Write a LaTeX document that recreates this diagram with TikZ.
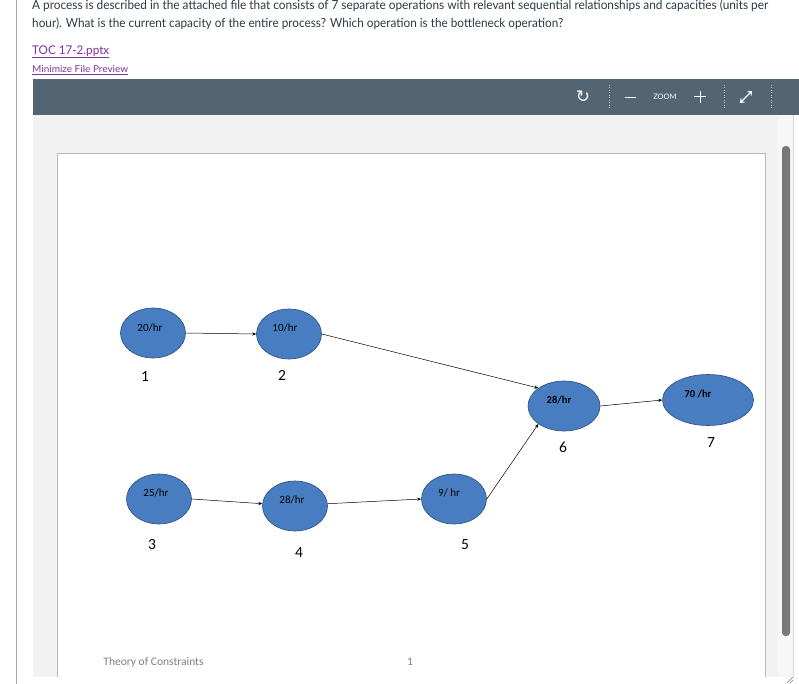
\documentclass[tikz,border=0pt]{standalone}
\usepackage{fontspec}
\setmainfont{Lato}
\newfontfamily\calib{Carlito}
\newfontfamily\djv{DejaVu Sans}
\usetikzlibrary{shapes.geometric,arrows.meta}
\definecolor{txt}{RGB}{45,59,69}
\definecolor{linkc}{RGB}{125,50,160}
\definecolor{barc}{RGB}{83,101,114}
\definecolor{grayarea}{RGB}{242,242,242}
\definecolor{slideb}{RGB}{180,186,194}
\definecolor{nodefill}{RGB}{72,126,193}
\definecolor{nodedraw}{RGB}{45,78,120}
\definecolor{thumb}{RGB}{120,120,120}
\tikzset{
  op/.style={ellipse, draw=nodedraw, fill=nodefill, line width=0.6pt, inner sep=0pt, minimum width=65pt, minimum height=50pt},
  rate/.style={font=\calib\fontsize{11}{12}\selectfont, text=black},
  rateb/.style={font=\calib\bfseries\fontsize{10.5}{12}\selectfont, text=black},
  num/.style={font=\calib\fontsize{15.5}{17}\selectfont, text=black},
  flow/.style={draw=black, line width=0.5pt, -{Stealth[length=4pt,width=3.2pt]}},
  sep/.style={draw=white!60!barc, line width=0.5pt, dotted},
  icon/.style={text=white, inner sep=0pt},
}
\begin{document}
\begin{tikzpicture}[x=1pt,y=-1pt]
\useasboundingbox (0,0) rectangle (799,684);
\fill[white] (0,0) rectangle (799,684);
% left page border
\draw[draw=black!35, line width=0.6pt] (16,0) -- (16,684);
% question text
\node[anchor=base west, inner sep=0pt, text=txt, font=\fontsize{12.5}{15}\selectfont] (q1) at (32,10)
  {\resizebox{736pt}{\height}{A process is described in the attached file that consists of 7 separate operations with relevant sequential relationships and capacities (units per}};
\node[anchor=base west, inner sep=0pt, text=txt, font=\fontsize{12.5}{15}\selectfont] (q2) at (32,28)
  {\resizebox{531pt}{\height}{hour). What is the current capacity of the entire process? Which operation is the bottleneck operation?}};
\node[anchor=base west, inner sep=0pt, text=linkc, font=\fontsize{12}{14}\selectfont] (lnk) at (32,55)
  {\resizebox{77pt}{\height}{TOC 17-2.pptx}};
\draw[linkc, line width=0.6pt] (32,57.5) -- (109,57.5);
\node[anchor=base west, inner sep=0pt, text=linkc, font=\fontsize{9.5}{11}\selectfont] (mini) at (32,72.5)
  {\resizebox{96pt}{\height}{Minimize File Preview}};
\draw[linkc, line width=0.5pt] (32,74.5) -- (128,74.5);
% viewer
\fill[grayarea] (33,115) rectangle (778,677);
\fill[black!3] (778,115) rectangle (793,677);
\draw[black!15, line width=0.5pt] (793,115) -- (793,677);
\fill[barc] (33,79) rectangle (799,115);
% toolbar icons
\node[icon, font=\djv\fontsize{17}{17}\selectfont] (rot) at (583,97) {↻};
\draw[sep] (609,85) -- (609,109);
\draw[white, line width=1pt] (625,97.5) -- (636,97.5);
\node[icon, font=\fontsize{7.5}{8}\selectfont] (zm) at (665,97) {ZOOM};
\draw[white, line width=1pt] (694,97) -- (706,97) (700,91) -- (700,103);
\draw[sep] (724,85) -- (724,109);
\draw[white, line width=1.1pt, {Straight Barb[length=3pt,width=5pt]}-{Straight Barb[length=3pt,width=5pt]}] (740,103) -- (752,91);
\draw[sep] (771,85) -- (771,109);
% slide
\fill[white] (57,153) rectangle (765,677);
\draw[slideb, line width=0.7pt] (57,677) -- (57,153) -- (765,153) -- (765,677);
% scrollbar thumb
\fill[thumb, rounded corners=3.5pt] (782,146) rectangle (790,636);
% resize handle
\draw[black!50, line width=0.5pt] (787,683) -- (793,677) (790,683) -- (793,680);
% operations
\node[op] (n1) at (153,333) {};
\node[op] (n2) at (289,334) {};
\node[op] (n3) at (159,499) {};
\node[op] (n4) at (295,506) {};
\node[op] (n5) at (454,499) {};
\node[op, minimum width=72pt] (n6) at (564,406) {};
\node[op, minimum width=91pt, minimum height=51pt] (n7) at (708,400) {};
% rates
\node[rate] (r1) at (150,327.5) {20/hr};
\node[rate] (r2) at (285,328) {10/hr};
\node[rate] (r3) at (156,493) {25/hr};
\node[rate] (r4) at (292,499.5) {28/hr};
\node[rate] (r5) at (449,493) {9/ hr};
\node[rateb] (r6) at (559,400) {28/hr};
\node[rateb] (r7) at (698,394) {70 /hr};
% numbers
\node[num] (k1) at (145,377) {1};
\node[num] (k2) at (282,375) {2};
\node[num] (k3) at (152,545) {3};
\node[num] (k4) at (299,553) {4};
\node[num] (k5) at (465,545) {5};
\node[num] (k6) at (563,447) {6};
\node[num] (k7) at (711,443) {7};
% flows
\draw[flow] (n1.east) -- (n2.west);
\draw[flow] (n2.east) -- (n6.145);
\draw[flow] (n3.east) -- (n4.176);
\draw[flow] (n4.4) -- (n5.west);
\draw[flow] (n5.east) -- (n6.215);
\draw[flow] (n6.east) -- (n7.west);
% footer
\node[text=black!50, font=\calib\fontsize{11.5}{13}\selectfont] (ft) at (153.5,662) {Theory of Constraints};
\node[text=black!50, font=\calib\fontsize{11.5}{13}\selectfont] (pg) at (410,662) {1};
\end{tikzpicture}
\end{document}
